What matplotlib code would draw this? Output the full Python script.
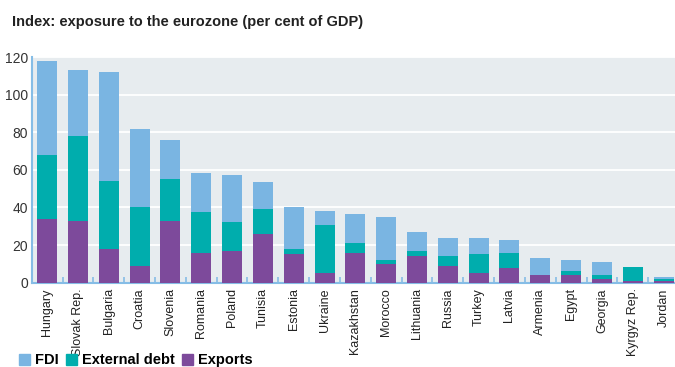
"""
Eurozone exposure index: stacked bars of exports, external debt and FDI
(per cent of GDP) for emerging Europe and neighbouring economies.
"""
import matplotlib
matplotlib.use("Agg")
import matplotlib.pyplot as plt
import numpy as np

# ============================================================
# DATA (per cent of GDP)
# ============================================================
countries = [
    "Hungary", "Slovak Rep.", "Bulgaria", "Croatia", "Slovenia", "Romania",
    "Poland", "Tunisia", "Estonia", "Ukraine", "Kazakhstan", "Morocco",
    "Lithuania", "Russia", "Turkey", "Latvia", "Armenia", "Egypt",
    "Georgia", "Kyrgyz Rep.", "Jordan",
]
exports = [34, 33, 18, 9, 33, 16, 17, 26, 15, 5, 16, 10, 14, 9, 5, 8, 4, 4, 2, 0.7, 0.7]
external_debt = [34, 45, 36, 31, 22, 21.5, 15, 13, 3, 25.5, 5, 2, 3, 5, 10, 8, 0, 2, 2, 7.5, 1.1]
fdi = [50, 35, 58, 42, 21, 21, 25.5, 14.5, 22, 7.5, 15.5, 23, 10, 9.5, 8.5, 6.5, 9, 6, 7, 0, 1.0]

TITLE = "Index: exposure to the eurozone (per cent of GDP)"
Y_TICKS = [0, 20, 40, 60, 80, 100, 120]

# ============================================================
# STYLE
# ============================================================
C_FDI = "#7AB5E2"
C_DEBT = "#00ADAD"
C_EXP = "#7D4A9B"
C_BG = "#E7ECEF"
C_AXIS = "#86BDE6"
FONT = ["Liberation Sans", "DejaVu Sans"]

plt.rcParams["font.family"] = FONT


def main() -> None:
    fig = plt.figure(figsize=(6.75, 3.67), dpi=100)
    ax = fig.add_axes([0.0474, 0.230, 0.9526, 0.614])
    ax.set_facecolor(C_BG)

    x = np.arange(len(countries))
    exp = np.array(exports)
    debt = np.array(external_debt)
    width = 0.65

    ax.bar(x, exp, width, color=C_EXP, zorder=3)
    ax.bar(x, debt, width, bottom=exp, color=C_DEBT, zorder=3)
    ax.bar(x, fdi, width, bottom=exp + debt, color=C_FDI, zorder=3)

    ax.set_ylim(0, 120)
    ax.set_xlim(-0.49, len(countries) - 1 + 0.37)
    ax.set_yticks(Y_TICKS)
    ax.yaxis.grid(True, color="white", linewidth=1.3, zorder=0)
    ax.tick_params(axis="y", length=0, pad=3, labelsize=10, labelcolor="#333333")

    ax.set_xticks(x)
    ax.set_xticklabels(countries, rotation=90, fontsize=9, color="#222222")
    ax.tick_params(axis="x", which="major", length=0, pad=4)
    ax.set_xticks(x[:-1] + 0.5, minor=True)
    ax.tick_params(axis="x", which="minor", direction="in", length=4,
                   width=1.2, color=C_AXIS)

    for side in ("top", "right"):
        ax.spines[side].set_visible(False)
    for side in ("left", "bottom"):
        ax.spines[side].set_color(C_AXIS)
        ax.spines[side].set_linewidth(1.5)

    fig.text(0.018, 0.94, TITLE, fontsize=10.5, fontweight="bold",
             color="#222222", va="center", ha="left")

    # legend along the bottom edge
    handles = [plt.Rectangle((0, 0), 1, 1, color=c) for c in (C_FDI, C_DEBT, C_EXP)]
    fig.legend(handles, ["FDI", "External debt", "Exports"],
               loc="center left", bbox_to_anchor=(0.008, 0.018), ncol=3,
               frameon=False, handlelength=0.8, handleheight=0.8,
               handletextpad=0.35, columnspacing=0.45,
               prop={"family": FONT, "weight": "bold", "size": 10.5})

    fig.savefig("out.png", dpi=100)
    plt.close(fig)


if __name__ == "__main__":
    main()
